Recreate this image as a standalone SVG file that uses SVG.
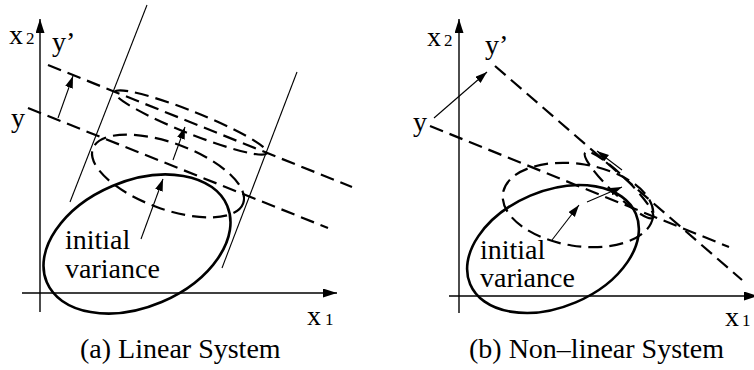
<svg xmlns="http://www.w3.org/2000/svg" width="754" height="370" viewBox="0 0 754 370">
<style>
text{font-family:"Liberation Serif","Times New Roman",serif;fill:#000}
.lbl{font-size:28px}
.sub{font-size:17px}
.axis{stroke:#000;stroke-width:1.4;fill:none}
.thin{stroke:#000;stroke-width:1.1;fill:none}
.dash{stroke:#000;stroke-width:2.2;fill:none;stroke-dasharray:14 7}
.solid{stroke:#000;stroke-width:2.6;fill:none}
.arr{stroke:#000;stroke-width:1.1;fill:none}
</style>
<defs>
<marker id="ah" markerUnits="userSpaceOnUse" markerWidth="14" markerHeight="10" refX="12" refY="4" orient="auto">
<path d="M0,0 L12,4 L0,8 Z" fill="#000"/>
</marker>
<marker id="axh" markerUnits="userSpaceOnUse" markerWidth="16" markerHeight="10" refX="14" refY="4.5" orient="auto">
<path d="M0,0 L14,4.5 L0,9 Z" fill="#000"/>
</marker>
</defs>

<g id="panel-a">
<g id="axes-a">
<line class="axis" x1="40" y1="312" x2="40" y2="19" marker-end="url(#axh)"/>
<line class="axis" x1="22" y1="293" x2="337" y2="293" marker-end="url(#axh)"/>
</g>
<g id="labels-a">
<text class="lbl" x="9" y="44">x<tspan class="sub" dx="3">2</tspan></text>
<text class="lbl" x="52" y="51">y’</text>
<text class="lbl" x="11" y="127">y</text>
<text class="lbl" x="307" y="325">x<tspan class="sub" dx="4">1</tspan></text>
<text class="lbl" x="80" y="358">(a) Linear System</text>
</g>
<g id="initial-a">
<ellipse class="solid" cx="137" cy="244" rx="98" ry="63" transform="rotate(-23 137 244)"/>
<text class="lbl" x="65" y="249">initial</text>
<text class="lbl" x="65" y="278">variance</text>
</g>
<g id="propagated-a">
<ellipse class="dash" cx="168" cy="176" rx="80" ry="33" transform="rotate(20 168 176)"/>
</g>
<g id="updated-a">
<ellipse class="dash" cx="191" cy="122.5" rx="82" ry="11" transform="rotate(21.8 191 122.5)"/>
</g>
<g id="connectors-a">
<line class="thin" x1="147" y1="5" x2="70" y2="202"/>
<line class="thin" x1="297" y1="72" x2="222" y2="268"/>
<line class="dash" x1="48" y1="65" x2="352" y2="187"/>
<line class="dash" x1="28" y1="108" x2="328" y2="228"/>
<line class="arr" x1="58" y1="118" x2="73" y2="76" marker-end="url(#ah)"/>
<line class="arr" x1="173" y1="160" x2="185" y2="127" marker-end="url(#ah)"/>
<line class="arr" x1="141" y1="239" x2="163" y2="179" marker-end="url(#ah)"/>
</g>
</g>

<g id="panel-b">
<g id="axes-b">
<line class="axis" x1="459" y1="313" x2="459" y2="19" marker-end="url(#axh)"/>
<line class="axis" x1="449" y1="296" x2="758" y2="296" marker-end="url(#axh)"/>
</g>
<g id="labels-b">
<text class="lbl" x="427" y="46">x<tspan class="sub" dx="3">2</tspan></text>
<text class="lbl" x="485" y="54">y’</text>
<text class="lbl" x="413" y="131">y</text>
<text class="lbl" x="725" y="326">x<tspan class="sub" dx="3">1</tspan></text>
<text class="lbl" x="469" y="358">(b) Non–linear System</text>
</g>
<g id="initial-b">
<ellipse class="solid" cx="553" cy="249" rx="90" ry="58" transform="rotate(-23 553 249)"/>
<text class="lbl" x="480" y="259">initial</text>
<text class="lbl" x="480" y="287">variance</text>
</g>
<g id="propagated-b">
<ellipse class="dash" cx="578" cy="205" rx="76" ry="41" transform="rotate(9 578 205)"/>
</g>
<g id="updated-b">
<ellipse class="dash" cx="619" cy="185" rx="47" ry="9" transform="rotate(44 619 185)"/>
</g>
<g id="connectors-b">
<line class="dash" x1="495" y1="66" x2="742" y2="280"/>
<line class="dash" x1="430" y1="126" x2="729" y2="247"/>
<line class="arr" x1="434" y1="118" x2="487" y2="72" marker-end="url(#ah)"/>
<line class="arr" x1="552" y1="240" x2="579" y2="205" marker-end="url(#ah)"/>
<line class="arr" x1="587" y1="202" x2="622" y2="187" marker-end="url(#ah)"/>
<line class="arr" x1="622" y1="170" x2="597" y2="151" marker-end="url(#ah)"/>
</g>
</g>
</svg>
